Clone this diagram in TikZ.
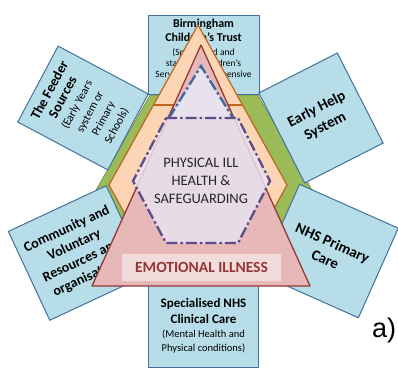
\documentclass[tikz,border=0pt]{standalone}
\usepackage{fontspec}
\setmainfont{Carlito}
\newfontfamily\arialfont{Liberation Sans}

\definecolor{agencyfill}{HTML}{B7DEE8}
\definecolor{agencyline}{HTML}{41719C}
\definecolor{hexgreen}{HTML}{9BBB59}
\definecolor{peach}{HTML}{FCD5B5}
\definecolor{peachline}{HTML}{C0651F}
\definecolor{rose}{HTML}{E6B9B8}
\definecolor{roseline}{HTML}{953735}
\definecolor{lilac}{HTML}{E8E1EE}
\definecolor{lilacline}{HTML}{5F4B8B}
\definecolor{tipline}{HTML}{3C67A0}
\definecolor{tagfill}{HTML}{F2DCDB}

% smaller, non-bold lines inside an agency box
\newcommand\detail[2][10.5]{{\mdseries\fontsize{#1}{#1}\selectfont #2}}

\tikzset{
  agency/.style={draw=agencyline, fill=agencyfill, line width=1pt, align=center, inner sep=0pt},
  ringline/.style={line width=2.3pt, dash pattern=on 11pt off 3pt on 2.5pt off 3pt},
}

\begin{document}
\begin{tikzpicture}[x=1pt,y=-1pt]
  \useasboundingbox (0,0) rectangle (398,372);

  % green ring behind everything
  \filldraw[fill=hexgreen, draw=hexgreen!70!black, line width=0.5pt]
    (150,95) -- (258,95) -- (312,190) -- (258,285) -- (150,285) -- (96,190) -- cycle;

  % agencies round the ring
  \node[agency, minimum width=111pt, minimum height=79pt, font=\bfseries\fontsize{12}{14}\selectfont] (Trust) at (203.5,54.5)
    {Birmingham\\Children's Trust\\\detail[9.5]{(Specialised and}\\[-3pt]\detail[9.5]{statutory Children's}\\[-3pt]\detail[9.5]{Services, Comprehensive}\\[-3pt]\detail[9.5]{Assessment)}};
  \node[agency, minimum width=110pt, minimum height=82pt, font=\bfseries\fontsize{13}{14}\selectfont] (Clinical) at (203.5,326)
    {Specialised NHS\\[2pt]Clinical Care\\\detail{(Mental Health and}\\\detail{Physical conditions)}};
  \node[agency, rotate=62, minimum width=86pt, minimum height=102pt, font=\bfseries\fontsize{14}{15}\selectfont] (Feeder) at (83,108)
    {The Feeder\\Sources\\\detail[11.5]{(Early Years}\\\detail[11.5]{system or}\\\detail[11.5]{Primary}\\\detail[11.5]{Schools)}};
  \node[agency, rotate=27, minimum width=88pt, minimum height=101pt, font=\bfseries\fontsize{15}{19}\selectfont] (EarlyHelp) at (321,118)
    {Early Help\\System};
  \node[agency, rotate=25, minimum width=108pt, minimum height=98pt, font=\bfseries\fontsize{14}{17.5}\selectfont] (Community) at (78,253)
    {Community and\\Voluntary\\Resources and\\organisations};
  \node[agency, rotate=-24, minimum width=108pt, minimum height=98pt, font=\bfseries\fontsize{15}{18}\selectfont] (Primary) at (329,251)
    {NHS Primary\\Care};

  % orange point and hexagon
  \filldraw[fill=peach, draw=peachline, line width=1.2pt, line join=round]
    (198,25) -- (287,185) -- (243,265) -- (153,265) -- (109,185) -- cycle;
  \draw[peachline, line width=1.2pt] (153,105) -- (243,105);

  % emotional illness triangle
  \filldraw[fill=rose, draw=roseline, line width=1.3pt, line join=round]
    (201,45) -- (310,286) -- (92,286) -- cycle;

  % physical ill health hexagon with its point
  \fill[lilac, fill opacity=0.85] (166,118) -- (238,118) -- (270,181) -- (238,243) -- (166,243) -- (133,181) -- cycle;
  \fill[lilac] (201,66) -- (233,118) -- (169,118) -- cycle;
  \draw[ringline, tipline] (169,118) -- (201,66) -- (233,118);
  \draw[ringline, lilacline] (166,118) -- (238,118) -- (270,181) -- (238,243) -- (166,243) -- (133,181) -- cycle;

  \node[align=center, font=\fontsize{14.5}{18}\selectfont, text=black!85] (Physical) at (201,181)
    {PHYSICAL ILL\\HEALTH \&\\SAFEGUARDING};
  \node[fill=tagfill, text=roseline, font=\bfseries\fontsize{15.5}{17}\selectfont, minimum width=159pt, minimum height=27pt, inner sep=0pt] (Emotional) at (201.5,267.5)
    {EMOTIONAL ILLNESS};

  \node[anchor=base west, inner sep=0pt, font=\arialfont\fontsize{27}{30}\selectfont] (Panel) at (372,337) {a)};
\end{tikzpicture}
\end{document}
